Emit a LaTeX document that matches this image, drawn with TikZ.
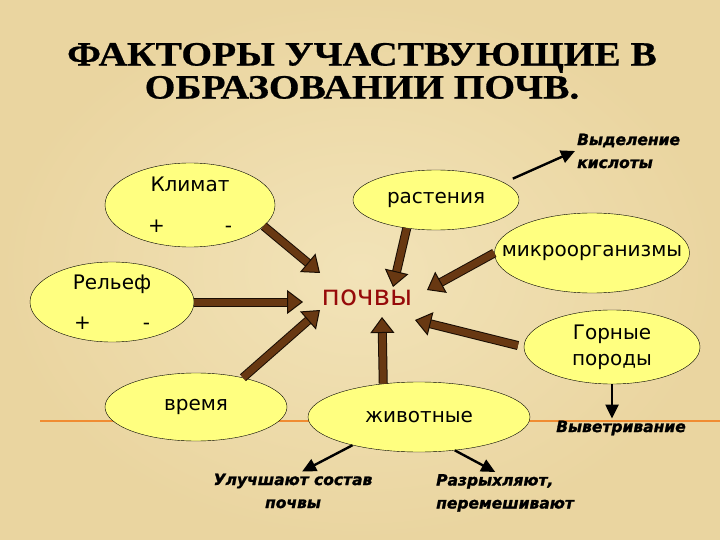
\documentclass[tikz,border=0pt]{standalone}
\usepackage{fontspec}
\setmainfont{DejaVu Sans}
\newfontfamily\titlefont[FakeStretch=1.16,FakeBold=0.6]{Liberation Serif}
\newfontfamily\notefont[FakeBold=1.4]{DejaVu Sans Bold Oblique}
\usetikzlibrary{shapes.geometric,arrows.meta}

\definecolor{papyrus}{RGB}{234,213,160}
\definecolor{papyruslight}{RGB}{242,227,184}
\definecolor{ovalyellow}{RGB}{255,255,128}
\definecolor{soilbrown}{RGB}{104,56,18}
\definecolor{soilred}{RGB}{150,10,10}
\definecolor{lineorange}{RGB}{240,140,50}

\begin{document}
\begin{tikzpicture}[x=1pt,y=-1pt,
	oval/.style={ellipse,draw=black,thin,fill=ovalyellow,inner xsep=-70pt,inner ysep=0pt,
		align=center,font=\fontsize{20}{26}\selectfont},
	note/.style={inner sep=2pt,font=\notefont\fontsize{15.5}{23}\selectfont},
	fat/.style={draw=soilbrown,line width=7pt,
		-{Triangle[width=24pt,length=16pt,line width=1pt,color=black!75!soilbrown,fill=soilbrown]},
		preaction={draw=black!75!soilbrown,line width=9pt,arrows=-,shorten >=10pt}},
	thinarrow/.style={draw=black,line width=2.4pt,-{Triangle[width=13pt,length=14pt]}}]
		\shade[inner color=papyruslight,outer color=papyrus] (0,0) rectangle (720,540);
		\useasboundingbox (0,0) rectangle (720,540);
		\draw[lineorange,line width=1.1pt] (40,421) -- (720,421);

		\node[font=\titlefont\bfseries\fontsize{34}{33}\selectfont,align=center] (title) at (362,71)
			{ФАКТОРЫ УЧАСТВУЮЩИЕ В\\ОБРАЗОВАНИИ ПОЧВ.};

		\node[text=soilred,font=\fontsize{28}{30}\selectfont] (soil) at (367,298) {почвы};

		\node[oval,minimum width=170pt,minimum height=84pt] (climate) at (190,205) {Климат\\[15pt]+\hspace{60pt}-};
		\node[oval,minimum width=164pt,minimum height=80pt] (relief) at (112,302) {Рельеф\\[14pt]+\hspace{52pt}-};
		\node[oval,minimum width=182pt,minimum height=68pt] (time) at (196,407) {время};
		\node[oval,minimum width=166pt,minimum height=60pt] (plants) at (436,200) {растения};
		\node[oval,minimum width=195pt,minimum height=80pt] (microbes) at (592,253) {микроорганизмы};
		\node[oval,minimum width=176pt,minimum height=74pt] (rocks) at (612,347) {Горные\\породы};
		\node[oval,minimum width=222pt,minimum height=70pt] (animals) at (419,417) {животные};

		\node[note,anchor=west,align=left] (acid) at (575,151) {Выделение\\кислоты};
		\node[note] (weather) at (621,428) {Выветривание};
		\node[note,align=center] (improve) at (293,491) {Улучшают состав\\почвы};
		\node[note,anchor=north west,align=left] (loosen) at (434,472) {Разрыхляют,\\перемешивают};

		% factors -> soil
		\draw[fat] (climate.-16) -- ([shift={(-47,-25)}]soil.center);
		\draw[fat] (relief.east) -- ([shift={(-64,4)}]soil.center);
		\draw[fat] (time.32) -- ([shift={(-47,12)}]soil.center);
		\draw[fat] (plants.-136) -- ([shift={(26,-11)}]soil.center);
		\draw[fat] (microbes.west) -- ([shift={(60,-8)}]soil.center);
		\draw[fat,shorten <=6pt] (rocks.west) -- ([shift={(48,22)}]soil.center);
		\draw[fat] (animals.137) -- ([shift={(15,19)}]soil.center);

		% what they do
		\draw[thinarrow] ([xshift=18pt]plants.north east) -- (acid.west);
		\draw[thinarrow] (rocks.south) -- (rocks.south |- weather.north);
		\draw[thinarrow] (animals.-157) -- (improve.65);
		\draw[thinarrow] (animals.-43) -- (loosen.115);
	\end{tikzpicture}
\end{document}
